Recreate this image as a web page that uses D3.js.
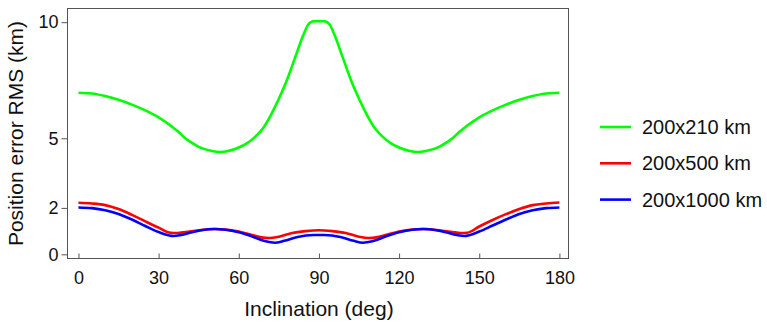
<!DOCTYPE html>
<html>
<head>
<meta charset="utf-8">
<script src="https://cdn.jsdelivr.net/npm/d3@7"></script>
<style>
  body { margin: 0; background: #fff; }
  text { font-family: "Liberation Sans", Arial, sans-serif; fill: #111; }
</style>
</head>
<body>
<svg id="chart"></svg>
<script>
// inclination (deg) and position error RMS (km)
const greenDeg = [0, 5, 10, 15, 20, 25, 30, 35, 37.5, 40, 42.5, 45, 50, 53, 56, 60, 63, 66, 69, 72, 75, 78, 81, 84, 86, 88, 92, 94, 96, 99, 102, 105, 108, 111, 114, 117, 120, 124, 127, 130, 135, 137.5, 140, 142.5, 145, 150, 155, 160, 165, 170, 175, 180];
const greenVal = [6.96, 6.93, 6.82, 6.66, 6.45, 6.2, 5.9, 5.5, 5.27, 5.0, 4.8, 4.63, 4.45, 4.41, 4.45, 4.6, 4.78, 5.05, 5.42, 6.0, 6.7, 7.5, 8.45, 9.4, 9.9, 10.04, 10.04, 9.9, 9.4, 8.45, 7.5, 6.7, 6.0, 5.42, 5.05, 4.78, 4.6, 4.45, 4.41, 4.45, 4.63, 4.8, 5.0, 5.27, 5.5, 5.9, 6.2, 6.45, 6.66, 6.82, 6.93, 6.96];

const redDeg = [0, 5, 10, 15, 20, 25, 30, 34.5, 37, 40, 45, 51, 55, 60, 65, 68, 71.5, 75, 80, 85, 90, 95, 100, 105, 108.5, 112, 115, 120, 125, 129, 135, 140, 143, 145.5, 150, 155, 160, 165, 170, 175, 180];
const redVal = [2.22, 2.19, 2.12, 1.95, 1.7, 1.42, 1.15, 0.93, 0.92, 0.96, 1.04, 1.09, 1.07, 0.98, 0.83, 0.74, 0.7, 0.76, 0.92, 1.0, 1.04, 1.0, 0.92, 0.76, 0.7, 0.74, 0.83, 0.98, 1.07, 1.09, 1.04, 0.96, 0.92, 0.93, 1.2, 1.48, 1.73, 1.95, 2.12, 2.19, 2.23];

const blueDeg = [0, 5, 10, 15, 20, 25, 30, 35.7, 38, 42, 46, 51, 55, 60, 65, 70, 73.5, 77, 82, 88, 92, 98, 103, 106.5, 110, 115, 120, 125, 129, 134, 138, 142, 144.3, 150, 155, 160, 165, 170, 175, 180];
const blueVal = [2.02, 1.99, 1.9, 1.74, 1.5, 1.22, 0.96, 0.79, 0.82, 0.94, 1.04, 1.09, 1.06, 0.95, 0.77, 0.56, 0.5, 0.58, 0.75, 0.83, 0.83, 0.75, 0.58, 0.5, 0.56, 0.77, 0.95, 1.06, 1.09, 1.04, 0.94, 0.82, 0.79, 0.98, 1.24, 1.5, 1.74, 1.9, 1.99, 2.02];

const seriesNames = ["200x210 km", "200x500 km", "200x1000 km"];
const seriesColors = ["#00ff00", "#ff0000", "#0000ff"];

const xTicks = [0, 30, 60, 90, 120, 150, 180];
const yTicks = [0, 2, 5, 10];

const W = 767, H = 323;
const box = { left: 67.5, right: 568.5, top: 8.5, bottom: 258.5 };
const frameColor = "#555";

const svg = d3.select("#chart").attr("width", W).attr("height", H);

const x = d3.scaleLinear().domain([-4.1, 183.4]).range([box.left, box.right]);
const y = d3.scaleLinear().domain([-0.18, 10.59]).range([box.bottom, box.top]);

svg.append("clipPath").attr("id", "plot-clip")
  .append("rect")
  .attr("x", box.left).attr("y", box.top)
  .attr("width", box.right - box.left).attr("height", box.bottom - box.top);

// x axis: ticks point into the frame
const xAxis = svg.append("g")
  .attr("transform", `translate(0,${box.bottom})`)
  .call(d3.axisBottom(x).tickValues(xTicks).tickSize(-5).tickPadding(13));

// y axis: ticks sit outside the frame
const yAxis = svg.append("g")
  .attr("transform", `translate(${box.left},0)`)
  .call(d3.axisLeft(y).tickValues(yTicks).tickSize(6).tickPadding(3));

[xAxis, yAxis].forEach((g) => {
  g.select(".domain").remove();
  g.selectAll(".tick line").attr("stroke", frameColor);
  g.selectAll(".tick text")
    .attr("font-size", 18)
    .attr("font-family", "Liberation Sans, Arial, sans-serif")
    .attr("fill", "#111");
});

// frame
svg.append("rect")
  .attr("x", box.left).attr("y", box.top)
  .attr("width", box.right - box.left).attr("height", box.bottom - box.top)
  .attr("fill", "none").attr("stroke", frameColor).attr("stroke-width", 1);

// curves
const line = d3.line()
  .x((d) => x(d[0]))
  .y((d) => y(d[1]))
  .curve(d3.curveMonotoneX);

const series = [
  d3.zip(greenDeg, greenVal),
  d3.zip(redDeg, redVal),
  d3.zip(blueDeg, blueVal),
];

svg.append("g").attr("clip-path", "url(#plot-clip)")
  .selectAll("path")
  .data(series)
  .join("path")
  .attr("d", line)
  .attr("fill", "none")
  .attr("stroke", (d, i) => seriesColors[i])
  .attr("stroke-width", 2.6)
  .attr("stroke-linejoin", "round");

// axis titles
svg.append("text")
  .attr("x", (x(0) + x(180)) / 2)
  .attr("y", 316)
  .attr("text-anchor", "middle")
  .attr("font-size", 21)
  .text("Inclination (deg)");

svg.append("text")
  .attr("transform", `translate(23,${(box.top + box.bottom) / 2}) rotate(-90)`)
  .attr("text-anchor", "middle")
  .attr("font-size", 21)
  .text("Position error RMS (km)");

// legend
const legend = svg.append("g").attr("transform", "translate(600,127)");
const item = legend.selectAll("g")
  .data(seriesNames)
  .join("g")
  .attr("transform", (d, i) => `translate(0,${i * 36.3})`);

item.append("line")
  .attr("x1", 0).attr("x2", 31)
  .attr("stroke", (d, i) => seriesColors[i])
  .attr("stroke-width", 2.6);

item.append("text")
  .attr("x", 42)
  .attr("y", 7)
  .attr("font-size", 20)
  .text((d) => d);
</script>
</body>
</html>
